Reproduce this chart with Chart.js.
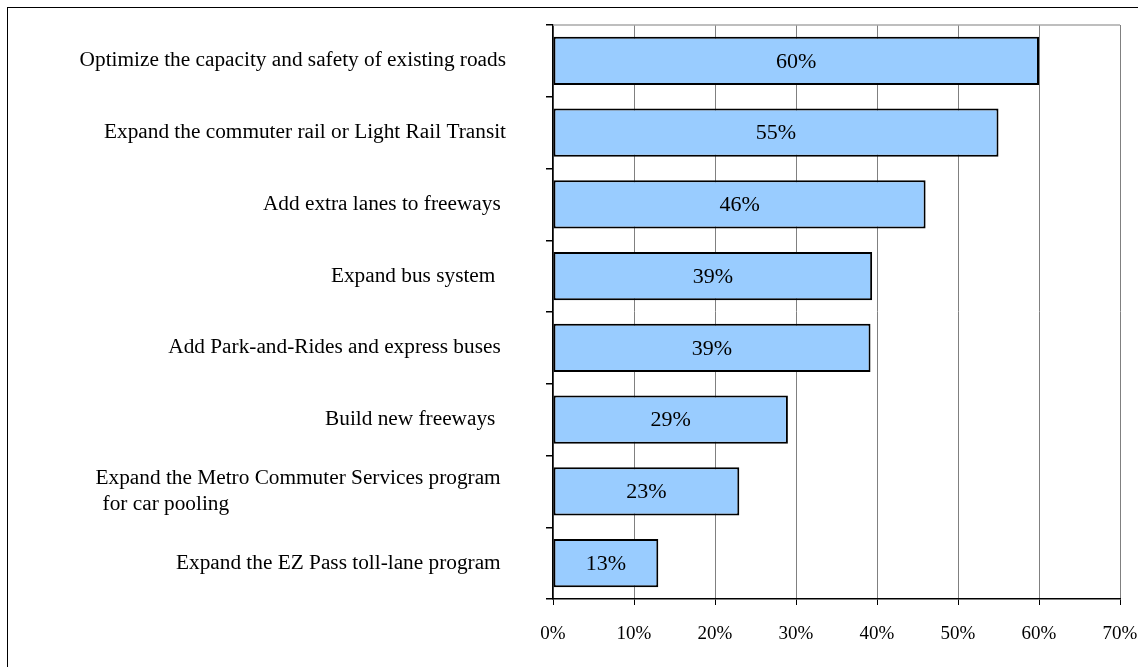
<!DOCTYPE html>
<html>
<head>
<meta charset="utf-8">
<script src="https://cdn.jsdelivr.net/npm/chart.js@4/dist/chart.umd.min.js"></script>
<style>
  body { margin: 0; background: #fff; overflow: hidden; }
  #wrap { position: relative; width: 1138px; height: 667px; }
  #frame { position: absolute; left: 7px; top: 7px; width: 1140px; height: 670px; border: 1px solid #000; pointer-events: none; }
</style>
</head>
<body>
<div id="wrap">
  <canvas id="chart" width="1138" height="667"></canvas>
  <div id="frame"></div>
</div>
<script>
// chart data
const categories = [
  'Optimize the capacity and safety of existing roads',
  'Expand the commuter rail or Light Rail Transit',
  'Add extra lanes to freeways ',
  'Expand bus system  ',
  'Add Park-and-Rides and express buses ',
  'Build new freeways  ',
  ['Expand the Metro Commuter Services program ', ' for car pooling'],
  'Expand the EZ Pass toll-lane program '
];
const shares = [60, 55, 46, 39.4, 39.2, 29, 23, 13];
const xTicks = [0, 10, 20, 30, 40, 50, 60, 70];

const serif = "'Liberation Serif', 'Times New Roman', serif";
const labelSize = 21.3;

// wrapped label: pad the second line so both lines start at the same x
const measure = document.createElement('canvas').getContext('2d');
measure.font = labelSize + 'px ' + serif;
function alignLines(lines) {
  const w = measure.measureText(lines[0]).width;
  let second = lines[1];
  while (measure.measureText(second + ' ').width <= w) second += ' ';
  return [lines[0], second];
}

// value labels in the middle of each bar, plus the grey top edge of the plot
const barValues = {
  id: 'barValues',
  beforeDatasetsDraw(chart) {
    const { ctx, chartArea } = chart;
    ctx.save();
    ctx.strokeStyle = '#a8a8a8';
    ctx.lineWidth = 1.5;
    ctx.beginPath();
    ctx.moveTo(chartArea.left, chartArea.top);
    ctx.lineTo(chartArea.right, chartArea.top);
    ctx.stroke();
    ctx.restore();
  },
  afterDatasetsDraw(chart) {
    const ctx = chart.ctx;
    const meta = chart.getDatasetMeta(0);
    ctx.save();
    ctx.font = '22px ' + serif;
    ctx.fillStyle = '#000';
    ctx.textAlign = 'center';
    ctx.textBaseline = 'middle';
    meta.data.forEach((bar, i) => {
      const p = bar.getCenterPoint();
      ctx.fillText(Math.round(shares[i]) + '%', p.x, p.y + 1);
    });
    ctx.restore();
  }
};

new Chart(document.getElementById('chart'), {
  type: 'bar',
  data: {
    labels: categories,
    datasets: [{
      data: shares,
      backgroundColor: '#99CCFF',
      borderColor: '#000',
      borderWidth: 2,
      borderSkipped: false,
      barPercentage: 0.67,
      categoryPercentage: 1
    }]
  },
  options: {
    indexAxis: 'y',
    responsive: false,
    animation: false,
    layout: { padding: { top: 25, right: 18, left: 0, bottom: 0 } },
    plugins: { legend: { display: false }, tooltip: { enabled: false } },
    scales: {
      x: {
        min: 0,
        max: 70,
        afterBuildTicks: scale => { scale.ticks = xTicks.map(v => ({ value: v })); },
        afterFit: scale => {
          scale.height = 68;
          scale.paddingLeft = 0;
          scale.paddingRight = 0;
        },
        grid: { color: '#808080', lineWidth: 1, tickLength: 6, tickColor: '#000' },
        border: { color: '#000', width: 1.5 },
        ticks: {
          padding: 18,
          color: '#000',
          font: { family: serif, size: 19 },
          callback: v => v + '%'
        }
      },
      y: {
        afterFit: scale => {
          scale.width = 553;
          scale.paddingTop = 0;
          scale.paddingBottom = 0;
        },
        grid: { drawOnChartArea: false, tickLength: 7, color: '#000', lineWidth: 1.5 },
        border: { color: '#000', width: 1.5 },
        ticks: {
          padding: 40,
          color: '#000',
          font: { family: serif, size: labelSize },
          callback: function (value) {
            const label = this.getLabelForValue(value);
            return Array.isArray(label) ? alignLines(label) : label;
          }
        }
      }
    }
  },
  plugins: [barValues]
});
</script>
</body>
</html>
